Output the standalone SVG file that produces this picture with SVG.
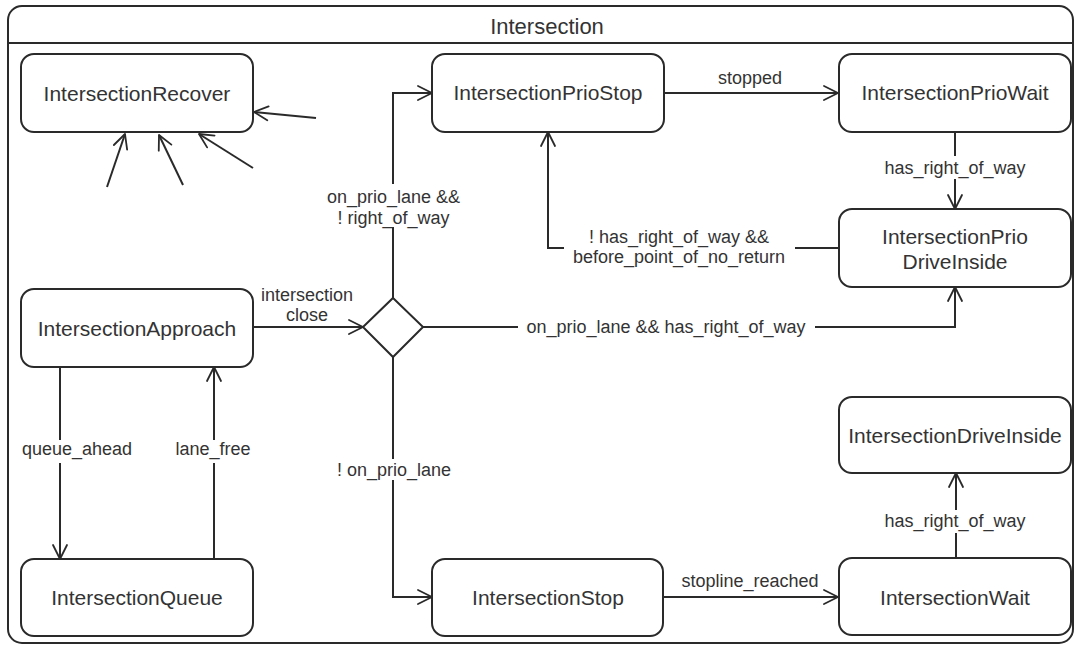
<svg xmlns="http://www.w3.org/2000/svg" width="1075" height="646" viewBox="0 0 1075 646">
  <defs>
    <marker id="arrow" markerUnits="userSpaceOnUse" markerWidth="16" markerHeight="16" refX="14" refY="7" orient="auto" overflow="visible">
      <path d="M0,0 L14,7 L0,14" fill="none" stroke="#2a2a2a" stroke-width="1.8" stroke-linejoin="round" stroke-linecap="round"/>
    </marker>
  </defs>
  <style>
    .frame { fill: #fff; stroke: #2a2a2a; stroke-width: 2; }
    .state rect { fill: #fff; stroke: #2a2a2a; stroke-width: 2; }
    .state text { font-family: "Liberation Sans", Arial, sans-serif; font-size: 21px; fill: #333; text-anchor: middle; }
    .title { font-family: "Liberation Sans", Arial, sans-serif; font-size: 22px; fill: #333; text-anchor: middle; }
    .edge { fill: none; stroke: #2a2a2a; stroke-width: 2; }
    .arrow { marker-end: url(#arrow); }
    .label { font-family: "Liberation Sans", Arial, sans-serif; font-size: 18px; fill: #333; text-anchor: middle; }
    .mask { fill: #fff; stroke: none; }
  </style>

  <rect width="1075" height="646" fill="#fff"/>

  <!-- composite state frame -->
  <g id="Intersection">
    <rect class="frame" x="8" y="6" width="1065" height="637" rx="14"/>
    <line x1="8" y1="43" x2="1073" y2="43" stroke="#2a2a2a" stroke-width="2"/>
    <text class="title" x="547" y="33.5">Intersection</text>
  </g>

  <!-- states -->
  <g id="IntersectionRecover" class="state">
    <rect x="21" y="54" width="232" height="78" rx="13"/>
    <text x="137" y="100.5">IntersectionRecover</text>
  </g>
  <g id="IntersectionPrioStop" class="state">
    <rect x="432" y="54" width="232" height="78" rx="13"/>
    <text x="548" y="100">IntersectionPrioStop</text>
  </g>
  <g id="IntersectionPrioWait" class="state">
    <rect x="839" y="54" width="232" height="78" rx="13"/>
    <text x="955" y="100">IntersectionPrioWait</text>
  </g>
  <g id="IntersectionPrioDriveInside" class="state">
    <rect x="839" y="209" width="232" height="78" rx="13"/>
    <text x="955" y="244">IntersectionPrio</text>
    <text x="955" y="269">DriveInside</text>
  </g>
  <g id="IntersectionApproach" class="state">
    <rect x="21" y="289" width="232" height="78" rx="13"/>
    <text x="137" y="335.5">IntersectionApproach</text>
  </g>
  <g id="IntersectionDriveInside" class="state">
    <rect x="839" y="397" width="232" height="76" rx="13"/>
    <text x="955" y="442.5">IntersectionDriveInside</text>
  </g>
  <g id="IntersectionQueue" class="state">
    <rect x="21" y="559" width="232" height="77" rx="13"/>
    <text x="137" y="605">IntersectionQueue</text>
  </g>
  <g id="IntersectionStop" class="state">
    <rect x="432" y="559" width="231" height="77" rx="13"/>
    <text x="548" y="605">IntersectionStop</text>
  </g>
  <g id="IntersectionWait" class="state">
    <rect x="839" y="558" width="232" height="77" rx="13"/>
    <text x="955" y="604.5">IntersectionWait</text>
  </g>
  <g id="choice">
    <path d="M393,298 L423,327 L393,357 L363,327 Z" fill="#fff" stroke="#2a2a2a" stroke-width="2"/>
  </g>

  <!-- transitions -->
  <g id="connectors">
    <path class="edge arrow" d="M253,327 H363"/>
    <path class="edge arrow" d="M393,298 V93 H432"/>
    <path class="edge arrow" d="M393,357 V597 H432"/>
    <path class="edge arrow" d="M423,327 H955 V287"/>
    <path class="edge arrow" d="M664,93 H838"/>
    <path class="edge arrow" d="M955,132 V209"/>
    <path class="edge arrow" d="M839,248 H548 V132"/>
    <path class="edge arrow" d="M60,367 V559"/>
    <path class="edge arrow" d="M214,559 V367"/>
    <path class="edge arrow" d="M663,597 H838"/>
    <path class="edge arrow" d="M956,558 V473"/>
    <!-- recovery entries -->
    <path class="edge arrow" d="M316,118 L254,112"/>
    <path class="edge arrow" d="M107,187 L125,134"/>
    <path class="edge arrow" d="M183,185 L159,135"/>
    <path class="edge arrow" d="M253,168 L199,134"/>

    <!-- guard labels -->
    <text class="label" x="307" y="300.5">intersection</text>
    <text class="label" x="307" y="320.5">close</text>

    <rect class="mask" x="325" y="184" width="138" height="43"/>
    <text class="label" x="393.5" y="202.5">on_prio_lane &amp;&amp;</text>
    <text class="label" x="393.5" y="223.5">! right_of_way</text>

    <rect class="mask" x="335" y="459" width="120" height="21"/>
    <text class="label" x="394" y="476">! on_prio_lane</text>

    <rect class="mask" x="518" y="316" width="297" height="22"/>
    <text class="label" x="666" y="333">on_prio_lane &amp;&amp; has_right_of_way</text>

    <text class="label" x="750" y="84">stopped</text>

    <rect class="mask" x="880" y="156" width="150" height="23"/>
    <text class="label" x="955" y="173.5">has_right_of_way</text>

    <rect class="mask" x="564" y="228" width="231" height="42"/>
    <text class="label" x="679" y="243">! has_right_of_way &amp;&amp;</text>
    <text class="label" x="679" y="263">before_point_of_no_return</text>

    <rect class="mask" x="20" y="440" width="114" height="23"/>
    <text class="label" x="77" y="455">queue_ahead</text>

    <rect class="mask" x="174" y="440" width="78" height="23"/>
    <text class="label" x="213" y="455">lane_free</text>

    <text class="label" x="750" y="587">stopline_reached</text>

    <rect class="mask" x="880" y="510" width="150" height="23"/>
    <text class="label" x="955" y="527">has_right_of_way</text>
  </g>
</svg>
